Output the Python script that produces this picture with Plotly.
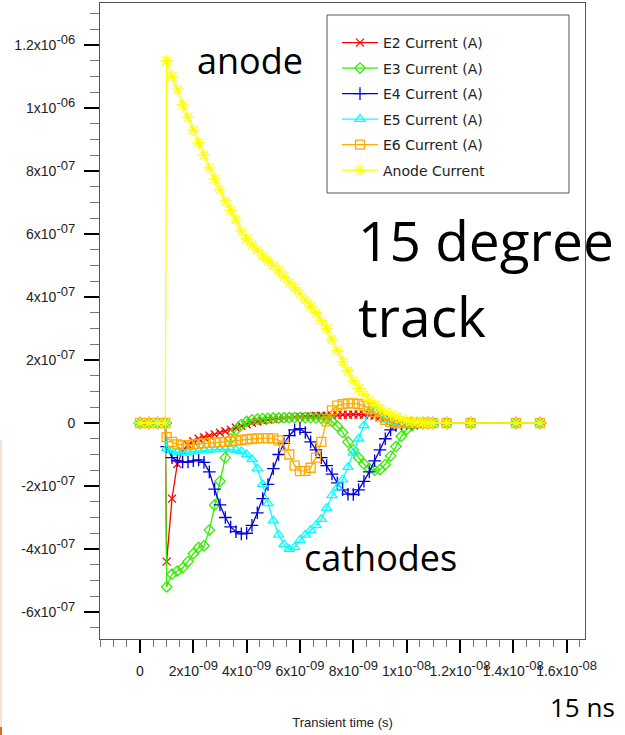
import plotly.graph_objects as go

# ---------------- data (time in ns, currents in units of 1e-7 A) ----------------
NS = 1e-9
UNIT = 1e-7

t_pre = [0.0, 0.33, 0.66, 0.95]
t_main = [1.0, 1.2, 1.4, 1.6, 1.8, 2.0, 2.2, 2.4, 2.6, 2.8,
          3.0, 3.2, 3.4, 3.6, 3.8, 4.0, 4.2, 4.4, 4.6, 4.8,
          5.0, 5.2, 5.4, 5.6, 5.8, 6.0, 6.2, 6.4, 6.6, 6.8,
          7.0, 7.2, 7.4, 7.6, 7.8, 8.0, 8.2, 8.4, 8.6, 8.8,
          9.0, 9.2, 9.4, 9.6, 9.8, 10.0, 10.2, 10.4, 10.6, 10.8, 11.0]
t_post = [11.5, 12.4, 14.1, 15.0]

e2 = [-4.4, -2.4, -1.3, -0.9, -0.7, -0.58, -0.5, -0.45, -0.4, -0.36,
      -0.31, -0.26, -0.21, -0.15, -0.09, -0.04, 0.01, 0.05, 0.08, 0.11,
      0.13, 0.15, 0.16, 0.17, 0.18, 0.19, 0.2, 0.21, 0.22, 0.23,
      0.23, 0.24, 0.25, 0.26, 0.26, 0.27, 0.27, 0.26, 0.25, 0.23,
      0.2, 0.16, 0.11, 0.07, 0.03, 0.01, 0.0, 0.0, 0.0, 0.0, 0.0]
e3 = [-5.2, -4.8, -4.7, -4.6, -4.4, -4.15, -3.95, -3.9, -3.4, -2.6,
      -1.85, -1.1, -0.5, -0.22, -0.05, 0.05, 0.1, 0.12, 0.14, 0.15,
      0.16, 0.16, 0.17, 0.17, 0.17, 0.17, 0.17, 0.17, 0.16, 0.15,
      0.13, 0.05, -0.1, -0.3, -0.6, -0.85, -1.1, -1.3, -1.45, -1.5,
      -1.48, -1.32, -1.05, -0.75, -0.42, -0.2, -0.08, -0.02, 0.0, 0.0, 0.0]
e4 = [-0.75, -1.1, -1.2, -1.24, -1.24, -1.2, -1.17, -1.25, -1.55, -2.1,
      -2.6, -3.0, -3.3, -3.45, -3.52, -3.5, -3.25, -2.85, -2.4, -1.95,
      -1.45, -1.0, -0.65, -0.4, -0.22, -0.18, -0.3, -0.6, -0.85, -1.1,
      -1.35, -1.62, -1.9, -2.12, -2.26, -2.27, -2.12, -1.85, -1.55, -1.2,
      -0.85, -0.5, -0.22, -0.08, -0.02, 0.0, 0.0, 0.0, 0.0, 0.0, 0.0]
e5 = [-0.8, -0.88, -0.92, -0.93, -0.92, -0.9, -0.88, -0.86, -0.85, -0.84,
      -0.83, -0.83, -0.84, -0.86, -0.9, -1.0, -1.15, -1.45, -1.95, -2.55,
      -3.1, -3.55, -3.85, -4.0, -3.95, -3.72, -3.55, -3.4, -3.25, -3.05,
      -2.7, -2.3, -2.05, -1.8, -1.4, -0.95, -0.5, -0.08, 0.38, 0.5,
      0.3, 0.1, 0.02, 0.0, 0.0, 0.0, 0.0, 0.0, 0.0, 0.0, 0.0]
e6 = [-0.45, -0.6, -0.68, -0.7, -0.7, -0.68, -0.66, -0.64, -0.63, -0.62,
      -0.61, -0.6, -0.58, -0.56, -0.54, -0.52, -0.5, -0.49, -0.48, -0.48,
      -0.49, -0.55, -0.72, -1.0, -1.35, -1.53, -1.52, -1.42, -1.1, -0.6,
      0.05, 0.4, 0.55, 0.6, 0.62, 0.62, 0.6, 0.55, 0.48, 0.35,
      0.2, 0.1, 0.03, 0.0, 0.0, 0.0, 0.0, 0.0, 0.0, 0.0, 0.0]
anode = [11.5, 11.0, 10.6, 10.1, 9.7, 9.3, 8.9, 8.5, 8.1, 7.75,
         7.4, 7.05, 6.75, 6.45, 6.1, 5.85, 5.65, 5.5, 5.3, 5.15,
         5.0, 4.85, 4.65, 4.45, 4.3, 4.1, 3.9, 3.7, 3.5, 3.25,
         3.0, 2.65, 2.3, 1.95, 1.65, 1.35, 1.1, 0.9, 0.72, 0.58,
         0.45, 0.35, 0.27, 0.19, 0.13, 0.08, 0.05, 0.03, 0.01, 0.0, 0.0]

series_names = ["E2 Current (A)", "E3 Current (A)", "E4 Current (A)",
                "E5 Current (A)", "E6 Current (A)", "Anode Current"]
series_values = [e2, e3, e4, e5, e6, anode]
series_colors = ["#ff0000", "#33ee00", "#0000dd", "#00ffff", "#ffaa00", "#ffff00"]
series_symbols = ["x-thin", "diamond-open", "cross-thin", "triangle-up-open",
                  "square-open", "asterisk"]
series_sizes = [8, 8, 9, 9, 9, 10]

y_tickvals = [-6e-7, -4e-7, -2e-7, 0, 2e-7, 4e-7, 6e-7, 8e-7, 1e-6, 1.2e-6]
y_tick_mant = ["-6", "-4", "-2", "0", "2", "4", "6", "8", "1", "1.2"]
y_tick_exp = ["-07", "-07", "-07", None, "-07", "-07", "-07", "-07", "-06", "-06"]
x_tickvals = [0, 2e-9, 4e-9, 6e-9, 8e-9, 1e-8, 1.2e-8, 1.4e-8, 1.6e-8]
x_tick_mant = ["0", "2", "4", "6", "8", "1", "1.2", "1.4", "1.6"]
x_tick_exp = [None, "-09", "-09", "-09", "-09", "-08", "-08", "-08", "-08"]

TICK_SIZE = 14


def sci_label(m, e):
    if e is None:
        return m
    return f'{m}x10<sup><span style="font-size:{TICK_SIZE - 1}px">{e}</span></sup>'


y_ticktext = [sci_label(m, e) for m, e in zip(y_tick_mant, y_tick_exp)]
x_ticktext = [sci_label(m, e) for m, e in zip(x_tick_mant, x_tick_exp)]

# ---------------- figure ----------------
W, H = 625, 735
ML, MR, MT, MB = 100, 40, 3, 96
PW, PH = W - ML - MR, H - MT - MB


def px(x):
    return (x - ML) / PW


def py(y):
    return (H - MB - y) / PH


times = [t * NS for t in t_pre + t_main + t_post]
fig = go.Figure()
for name, vals, col, sym, sz in zip(series_names, series_values, series_colors,
                                    series_symbols, series_sizes):
    full = [0.0] * len(t_pre) + vals + [0.0] * len(t_post)
    fig.add_trace(go.Scatter(
        x=times, y=[v * UNIT for v in full], name=name, legendgroup=name,
        mode="lines+markers",
        line=dict(color=col, width=1.3),
        marker=dict(symbol=sym, size=sz, color=col, line=dict(color=col, width=1.3)),
    ))

tickfont = dict(family="Liberation Sans", size=TICK_SIZE, color="#222")
fig.update_layout(
    width=W, height=H,
    margin=dict(l=ML, r=MR, t=MT, b=MB),
    paper_bgcolor="white", plot_bgcolor="white",
    showlegend=True,
    legend=dict(x=px(337), y=py(27), xanchor="left", yanchor="top",
                bgcolor="rgba(0,0,0,0)", borderwidth=0,
                font=dict(family="DejaVu Sans", size=14, color="#222"),
                tracegroupgap=4.3, itemwidth=36),
    xaxis=dict(range=[-1.5e-9, 16.69e-9], tickmode="array", tickvals=x_tickvals,
               ticktext=x_ticktext, tickangle=0, ticks="outside", ticklen=13,
               tickwidth=2, tickcolor="#000", showgrid=False, zeroline=False,
               showline=True, linecolor="#555", linewidth=1, mirror=True,
               tickfont=tickfont, ticklabelstandoff=6,
               minor=dict(tickmode="linear", tick0=0, dtick=5e-10, ticks="outside",
                          ticklen=7, tickwidth=1, tickcolor="#777", showgrid=False),
               title=dict(text="Transient time (s)",
                          font=dict(family="Liberation Sans", size=13, color="#222"),
                          standoff=40)),
    yaxis=dict(range=[-6.857e-7, 1.3333e-6], tickmode="array", tickvals=y_tickvals,
               ticktext=y_ticktext, ticks="outside", ticklen=15, tickwidth=2,
               tickcolor="#000", showgrid=False, zeroline=False, showline=True,
               linecolor="#555", linewidth=1, mirror=True, tickfont=tickfont,
               ticklabelstandoff=6,
               minor=dict(tickmode="linear", tick0=0, dtick=5e-8, ticks="outside",
                          ticklen=9, tickwidth=1, tickcolor="#777", showgrid=False)),
    shapes=[dict(type="rect", xref="paper", yref="paper",
                 x0=px(327), x1=px(569), y0=py(193), y1=py(15),
                 line=dict(color="#555", width=1), fillcolor="rgba(0,0,0,0)"),
            dict(type="line", xref="paper", yref="paper",
                 x0=px(1), x1=px(1), y0=py(440), y1=py(735),
                 line=dict(color="#fbe3d4", width=2)),
            dict(type="line", xref="paper", yref="paper",
                 x0=px(1), x1=px(1), y0=py(727), y1=py(735),
                 line=dict(color="#e8661e", width=2))],
)

ann_font = "Open Sans"
notes = [
    ("anode", 195, 61, 36),
    ("15 degree", 356, 240, 55),
    ("track", 356, 316, 55),
    ("cathodes", 302, 557, 36),
    ("15 ns", 548, 707, 26),
]
for text, x0, yc, size in notes:
    fig.add_annotation(text=text, xref="paper", yref="paper", x=px(x0), y=py(yc),
                       xanchor="left", yanchor="middle", showarrow=False,
                       font=dict(family=ann_font, size=size, color="#000"))

fig.write_html("out.html")
